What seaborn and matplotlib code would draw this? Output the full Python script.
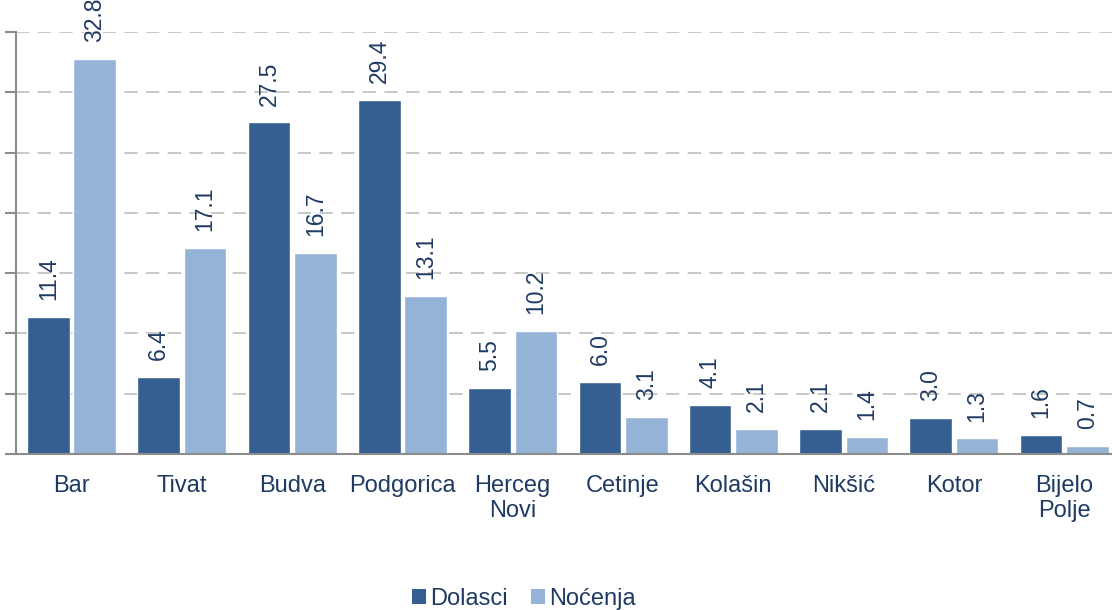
import matplotlib
matplotlib.use("Agg")
import matplotlib.pyplot as plt
import seaborn as sns
import pandas as pd
from matplotlib.patches import Patch

categories = ["Bar", "Tivat", "Budva", "Podgorica", "Herceg\nNovi", "Cetinje",
              "Kolašin", "Nikšić", "Kotor", "Bijelo\nPolje"]
dolasci = [11.4, 6.4, 27.5, 29.4, 5.5, 6.0, 4.1, 2.1, 3.0, 1.6]
nocenja = [32.8, 17.1, 16.7, 13.1, 10.2, 3.1, 2.1, 1.4, 1.3, 0.7]
series = ["Dolasci", "Noćenja"]

df = pd.DataFrame({
    "grad": categories * 2,
    "vrijednost": dolasci + nocenja,
    "serija": [series[0]] * len(categories) + [series[1]] * len(categories),
})

sns.set_style("white")
plt.rcParams["font.family"] = ["Liberation Sans", "DejaVu Sans"]

text_color = "#1F3B63"
colors = ["#355F91", "#95B3D7"]

fig = plt.figure(figsize=(11.12, 6.10), dpi=100)
ax = fig.add_axes([16.4 / 1112, 156 / 610, 1103 / 1112, 422 / 610])

sns.barplot(data=df, x="grad", y="vrijednost", hue="serija", order=categories,
            hue_order=series, palette=colors, width=0.84, gap=0.08,
            saturation=1, ax=ax, legend=False)

ax.set_ylim(0, 35)
ax.set_yticks(range(0, 36, 5))
ax.set_yticklabels([])
ax.yaxis.grid(True, linestyle=(0, (8, 5)), color="#BFBFBF", linewidth=1.2)
ax.set_axisbelow(True)
ax.set_xlim(-0.5, len(categories) - 0.5)

for s in ["top", "right"]:
    ax.spines[s].set_visible(False)
for s in ["left", "bottom"]:
    ax.spines[s].set_color("#8C8C8C")
    ax.spines[s].set_linewidth(1.5)

ax.tick_params(axis="y", length=8, width=1.5, color="#8C8C8C", left=True)
ax.tick_params(axis="x", length=0, pad=15, labelsize=17, labelcolor=text_color)
ax.set_xlabel("")
ax.set_ylabel("")

for cont in ax.containers:
    ax.bar_label(cont, fmt="%.1f", rotation=90, padding=12, fontsize=16.5,
                 color=text_color)

handles = [Patch(facecolor=c, edgecolor="none") for c in colors]
fig.legend(handles, series, loc="lower center", bbox_to_anchor=(0.471, -0.035),
           ncol=2, frameon=False, fontsize=17, handlelength=0.6,
           handleheight=0.6, handletextpad=0.15, columnspacing=1.0,
           labelcolor=text_color)

fig.savefig("out.png", dpi=100)
